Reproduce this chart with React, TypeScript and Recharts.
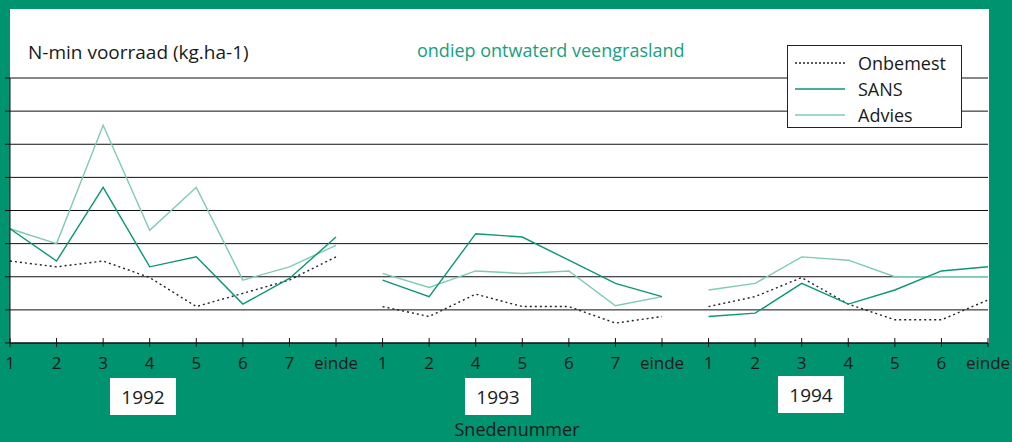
import React from "react";
import { LineChart, Line, XAxis, YAxis, CartesianGrid } from "recharts";

const GREEN_BG = "#009370";
const SANS_COLOR = "#0b9674";
const ADVIES_COLOR = "#7fcbb1";
const FONT = "'Open Sans', 'Noto Sans', sans-serif";

const labels1992 = ["1", "2", "3", "4", "5", "6", "7", "einde"];
const labels1993 = ["1", "2", "4", "5", "6", "7", "einde"];
const labels1994 = ["1", "2", "3", "4", "5", "6", "einde"];

const onbemest1992 = [49.5, 46, 49.5, 39.5, 22, 30, 38, 52];
const sans1992 = [69, 49.5, 94, 46, 52, 23.5, 39, 64];
const advies1992 = [69, 60, 131.5, 68, 94, 38, 46, 59];

const onbemest1993 = [22, 16, 29.5, 22, 22, 12, 16];
const sans1993 = [38, 28, 66, 64, 50, 36, 28];
const advies1993 = [42, 33.5, 43.5, 42, 43.5, 22.5, 28];

const onbemest1994 = [22, 28, 39.5, 23.5, 14, 14, 26];
const sans1994 = [16, 18, 36, 23.5, 32, 43.5, 46];
const advies1994 = [32, 36, 52, 50, 40, 40, 40];

const yTicks = [0, 20, 40, 60, 80, 100, 120, 140, 160];

// one row per snede; each year gets its own keys so the lines break between years
const years = [
  { year: "92", labels: labels1992, onb: onbemest1992, sans: sans1992, adv: advies1992 },
  { year: "93", labels: labels1993, onb: onbemest1993, sans: sans1993, adv: advies1993 },
  { year: "94", labels: labels1994, onb: onbemest1994, sans: sans1994, adv: advies1994 },
];

const data: Array<Record<string, string | number>> = [];
years.forEach((y) => {
  y.labels.forEach((label, i) => {
    data.push({
      label,
      [`onb${y.year}`]: y.onb[i],
      [`sans${y.year}`]: y.sans[i],
      [`adv${y.year}`]: y.adv[i],
    });
  });
});

const XTick = (props: any) => {
  const { x, y, payload } = props;
  return (
    <g>
      <line x1={x} x2={x} y1={y - 5} y2={y + 4} stroke="#111" strokeWidth={1} />
      <text x={x} y={y + 26} textAnchor="middle" fontSize={17} fontFamily={FONT} fill="#1a1a1a">
        {payload.value}
      </text>
    </g>
  );
};

const EmptyTick = () => <g />;

const yearBox = (text: string, left: number, top: number) => (
  <div
    style={{
      position: "absolute",
      left,
      top,
      width: 66,
      height: 37,
      background: "#fff",
      display: "flex",
      alignItems: "center",
      justifyContent: "center",
      fontFamily: FONT,
      fontSize: 19,
      color: "#1a1a1a",
    }}
  >
    {text}
  </div>
);

const LegendRow = ({ color, dash, text }: { color: string; dash?: boolean; text: string }) => (
  <div style={{ display: "flex", alignItems: "center", height: 26 }}>
    <svg width={50} height={4} style={{ marginRight: 13 }}>
      <line
        x1={0}
        x2={50}
        y1={2}
        y2={2}
        stroke={color}
        strokeWidth={1.4}
        strokeDasharray={dash ? "2 2" : undefined}
      />
    </svg>
    <span>{text}</span>
  </div>
);

export default function App() {
  return (
    <div
      style={{
        position: "absolute",
        left: 0,
        top: 0,
        width: 1012,
        height: 442,
        background: GREEN_BG,
        overflow: "hidden",
      }}
    >
      <div style={{ position: "absolute", left: 10, top: 9, width: 979, height: 334, background: "#fff" }} />

      <div style={{ position: "absolute", left: 0, top: 0 }}>
        <LineChart width={1012} height={442} data={data} margin={{ top: 78, right: 24, bottom: 0, left: 9 }}>
          <CartesianGrid vertical={false} stroke="#111" strokeWidth={1} />
          <YAxis
            width={1}
            domain={[0, 160]}
            ticks={yTicks}
            interval={0}
            tick={<EmptyTick />}
            tickSize={5}
            tickMargin={0}
            tickLine={{ stroke: "#111" }}
            axisLine={{ stroke: "#111" }}
          />
          <XAxis
            dataKey="label"
            height={99}
            interval={0}
            tickSize={0}
            tickMargin={0}
            tickLine={false}
            axisLine={{ stroke: "#111" }}
            tick={<XTick />}
          />
          {years.map((y) => [
            <Line
              key={`onb${y.year}`}
              dataKey={`onb${y.year}`}
              stroke="#222"
              strokeWidth={1.4}
              strokeDasharray="2 3"
              dot={false}
              isAnimationActive={false}
            />,
            <Line
              key={`adv${y.year}`}
              dataKey={`adv${y.year}`}
              stroke={ADVIES_COLOR}
              strokeWidth={1.4}
              dot={false}
              isAnimationActive={false}
            />,
            <Line
              key={`sans${y.year}`}
              dataKey={`sans${y.year}`}
              stroke={SANS_COLOR}
              strokeWidth={1.4}
              dot={false}
              isAnimationActive={false}
            />,
          ])}
        </LineChart>
      </div>

      <div
        style={{
          position: "absolute",
          left: 28,
          top: 39,
          fontFamily: FONT,
          fontSize: 19,
          color: "#1a1a1a",
          whiteSpace: "nowrap",
        }}
      >
        N-min voorraad (kg.ha-1)
      </div>
      <div
        style={{
          position: "absolute",
          left: 417,
          top: 38,
          fontFamily: FONT,
          fontSize: 18,
          color: "#17a07d",
          whiteSpace: "nowrap",
        }}
      >
        ondiep ontwaterd veengrasland
      </div>

      <div
        style={{
          position: "absolute",
          left: 787,
          top: 45,
          width: 175,
          height: 83,
          boxSizing: "border-box",
          border: "1px solid #222",
          background: "#fff",
          padding: "4px 0 0 7px",
          fontFamily: FONT,
          fontSize: 18,
          color: "#1a1a1a",
        }}
      >
        <LegendRow color="#222" dash text="Onbemest" />
        <LegendRow color={SANS_COLOR} text="SANS" />
        <LegendRow color={ADVIES_COLOR} text="Advies" />
      </div>

      {yearBox("1992", 110, 378)}
      {yearBox("1993", 465, 378)}
      {yearBox("1994", 778, 376)}

      <div
        style={{
          position: "absolute",
          left: 0,
          width: 1012,
          top: 418,
          lineHeight: "22px",
          textAlign: "center",
          fontFamily: FONT,
          fontSize: 18,
          color: "#1a1a1a",
        }}
      >
        <span style={{ position: "relative", left: 11 }}>Snedenummer</span>
      </div>
    </div>
  );
}
